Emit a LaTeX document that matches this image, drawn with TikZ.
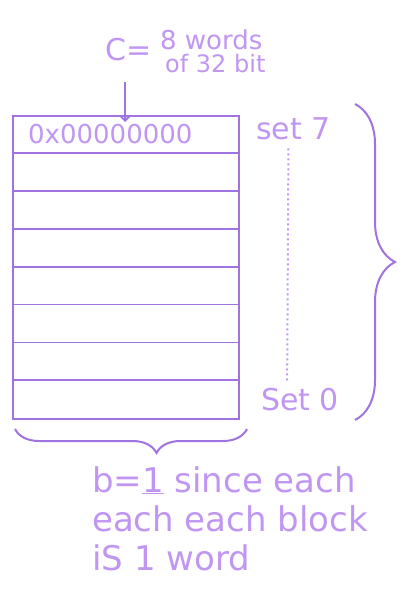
\documentclass[tikz,border=0pt]{standalone}
\usepackage{fontspec}
\setmainfont{DejaVu Sans}
\usetikzlibrary{decorations.pathreplacing,positioning,arrows.meta}
\definecolor{penline}{RGB}{160,115,225}
\definecolor{penink}{RGB}{192,150,242}
\begin{document}
\begin{tikzpicture}[x=1pt,y=-1pt,
    hand/.style={text=penink, inner sep=0pt},
    curly/.style={draw=penline, line width=2pt, decorate, decoration={brace, amplitude=#1}}]
    \useasboundingbox (0,0) rectangle (406,596);
    % the cache, 8 sets of one block each
    \node (cache) [draw=penline, line width=2pt, minimum width=226pt, minimum height=303pt,
        inner sep=0pt, anchor=north west] at (12,115) {};
    \foreach \i in {1,...,7}
        \draw[penline, line width=1.8pt] ([yshift=-\i*37.9pt]cache.north west) -- ([yshift=-\i*37.9pt]cache.north east);
    \node (word) [hand, font=\fontsize{26}{26}\selectfont, anchor=west] at (28,134) {0x00000000};
    % capacity label
    \node (clabel) [hand, font=\fontsize{30}{30}\selectfont] at (129,50) {C=};
    \node (cwords) [hand, font=\fontsize{26}{26}\selectfont, anchor=west] at (160,40) {8 words};
    \node (cbits) [hand, font=\fontsize{24}{24}\selectfont, anchor=west] at (165,64) {of 32 bit};
    \draw[-{Straight Barb[length=5pt]}, penline, line width=1.8pt] ([xshift=-4pt,yshift=-20pt]clabel.south) -- ([xshift=-4pt,yshift=-7pt]clabel.south |- cache.north);
    % set numbers on the right
    \node (set7) [hand, font=\fontsize{30}{30}\selectfont, anchor=west] at (256,129) {set 7};
    \node (set0) [hand, font=\fontsize{30}{30}\selectfont, anchor=west] at (261,400) {Set 0};
    \draw[penink, line width=2pt, dash pattern=on 2pt off 3pt] ([xshift=-5pt,yshift=-8pt]set7.south) -- ([xshift=-13pt,yshift=6pt]set0.north);
    \draw[curly=40pt] (355,104) -- (355,420);
    \draw[curly=24pt, decoration={aspect=0.39}] ([xshift=7pt,yshift=-9pt]cache.south east) -- ([xshift=3pt,yshift=-9pt]cache.south west);
    % block size note
    \node (note) [hand, align=left, anchor=north west, font=\fontsize{34}{39}\selectfont] at (92,466)
        {b=\underline{1} since each\\each each block\\iS 1 word};
\end{tikzpicture}
\end{document}
